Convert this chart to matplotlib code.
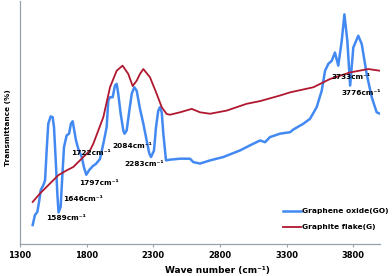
import matplotlib
matplotlib.use("Agg")
import matplotlib.pyplot as plt

# Graphene oxide (GO) spectrum
go_wavenumber = [1395, 1412, 1430, 1445, 1455, 1475, 1488, 1500, 1512, 1530, 1545, 1555,
                 1568, 1580, 1589, 1605, 1617, 1630, 1650, 1668, 1682, 1695, 1707, 1720,
                 1737, 1763, 1780, 1797, 1820, 1845, 1870, 1900, 1925, 1950, 1962, 1975,
                 1995, 2012, 2025, 2037, 2055, 2075, 2084, 2100, 2120, 2138, 2157, 2175,
                 2200, 2225, 2250, 2270, 2283, 2305, 2320, 2337, 2350, 2363, 2375, 2395,
                 2425, 2500, 2575, 2600, 2650, 2725, 2825, 2950, 3025, 3100, 3138, 3175,
                 3250, 3325, 3350, 3425, 3475, 3525, 3563, 3588, 3612, 3638, 3662, 3687,
                 3713, 3733, 3755, 3776, 3800, 3837, 3863, 3900, 3938, 3975, 4000]
go_transmittance = [7.8, 11.9, 13.2, 18.0, 22.1, 24.2, 26.2, 38.5, 49.5, 52.5, 52.2, 48.1,
                    34.4, 20.8, 13.0, 15.3, 27.6, 39.9, 44.7, 45.4, 49.5, 50.5, 46.7, 42.6,
                    39.2, 35.8, 31.5, 28.5, 30.5, 32.0, 33.0, 35.0, 41.3, 48.1, 59.0, 60.4,
                    60.4, 65.2, 65.9, 61.8, 53.6, 46.7, 45.4, 46.7, 54.9, 61.8, 64.5, 63.1,
                    55.6, 49.5, 42.6, 37.2, 35.8, 38.5, 48.1, 54.9, 56.3, 54.2, 45.4, 34.4,
                    34.7, 35.1, 35.1, 33.7, 33.1, 34.4, 35.8, 38.5, 40.6, 42.6, 41.9, 44.0,
                    45.4, 46.0, 47.1, 49.5, 51.5, 56.3, 63.1, 71.3, 74.1, 75.4, 78.8, 73.4,
                    83.6, 94.5, 83.6, 65.2, 80.9, 85.7, 82.3, 70.0, 60.4, 54.2, 53.6]

# Graphite flake (G) spectrum
g_wavenumber = [1395, 1450, 1525, 1587, 1650, 1700, 1775, 1825, 1850, 1925, 1975, 2025,
                2069, 2112, 2145, 2175, 2200, 2225, 2275, 2325, 2363, 2400, 2425, 2500,
                2588, 2650, 2725, 2850, 3000, 3100, 3250, 3325, 3500, 3625, 3775, 3912, 4000]
g_transmittance = [17.3, 20.8, 24.9, 28.3, 30.3, 31.7, 35.8, 38.5, 41.3, 52.2, 64.5, 71.3,
                   73.4, 70.0, 65.0, 67.2, 70.0, 72.0, 68.6, 61.8, 56.3, 53.5, 53.2, 54.2,
                   55.6, 54.2, 53.6, 54.9, 57.7, 58.8, 61.1, 62.4, 64.5, 67.9, 70.6, 72.0, 71.3]

x_ticks = [1300, 1800, 2300, 2800, 3300, 3800]

peak_labels = ["1589cm⁻¹", "1646cm⁻¹", "1722cm⁻¹", "1797cm⁻¹",
               "2084cm⁻¹", "2283cm⁻¹", "3733cm⁻¹", "3776cm⁻¹"]
label_x = [1644, 1772, 1831, 1893, 2141, 2234, 3781, 3856]
label_y = [10.7, 18.4, 37.3, 25.1, 40.2, 33.1, 68.6, 62.0]

W, H = 392, 276
fig = plt.figure(figsize=(W / 100, H / 100), dpi=100)
ax = fig.add_axes([20 / W, 32 / H, 360 / W, 243 / H])

ax.plot(go_wavenumber, go_transmittance, color="#4389f2", lw=1.8,
        label="Graphene oxide(GO)", solid_joinstyle="round")
ax.plot(g_wavenumber, g_transmittance, color="#b01830", lw=1.3,
        label="Graphite flake(G)", solid_joinstyle="round")

ax.set_xlim(1300, 4000)
ax.set_ylim(0, 100)
ax.set_xticks(x_ticks)
ax.set_xticklabels([str(t) for t in x_ticks], fontsize=6, fontweight="bold")
ax.set_yticks([])
for s in ["top", "right"]:
    ax.spines[s].set_visible(False)
for s in ["left", "bottom"]:
    ax.spines[s].set_color("#98a2ad")
    ax.spines[s].set_linewidth(0.9)
ax.tick_params(axis="x", length=2, width=0.8, color="#98a2ad", pad=3)

for t, x, y in zip(peak_labels, label_x, label_y):
    ax.text(x, y, t, fontsize=5.3, fontweight="bold", ha="center", va="center")

fig.text(8 / W, 1 - 128 / H, "Transmittance (%)", rotation=90, ha="center",
         va="center", fontsize=5.3, fontweight="bold")
fig.text(217 / W, 1 - 270 / H, "Wave number (cm⁻¹)", ha="center", va="center",
         fontsize=6.5, fontweight="bold")

leg = ax.legend(loc="upper left", bbox_to_anchor=(283 / W, 1 - 208 / H),
                bbox_transform=fig.transFigure, frameon=False, borderpad=0,
                borderaxespad=0, handlelength=2.4, handletextpad=0.1,
                labelspacing=1.3, prop={"size": 5.4, "weight": "bold"})

fig.savefig("out.png", dpi=100)
